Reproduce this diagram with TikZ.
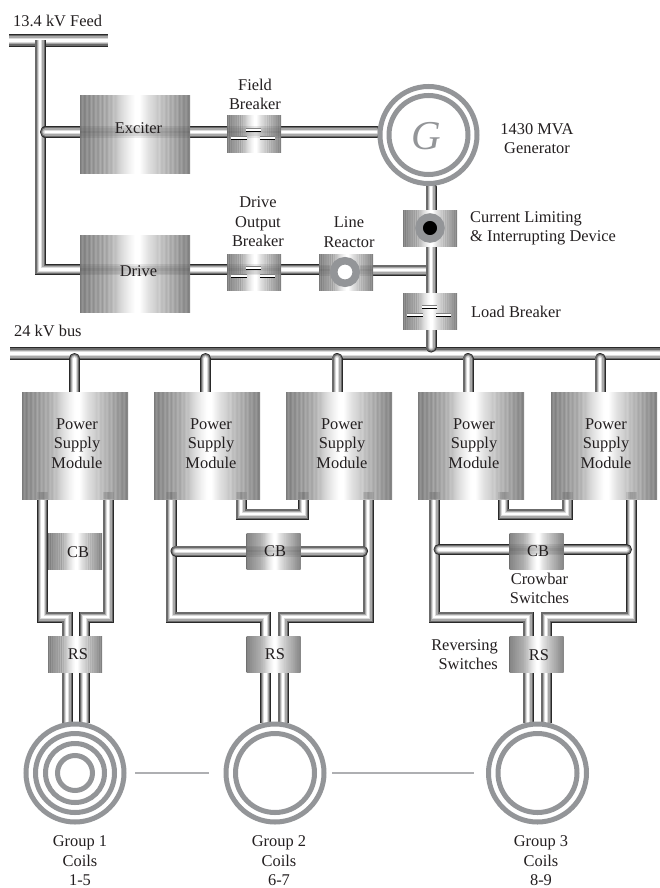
\documentclass[tikz,border=0pt]{standalone}
\usepackage{fontspec}
\setmainfont{Liberation Serif}
\usetikzlibrary{backgrounds}
\definecolor{ringgrey}{HTML}{939598}
\definecolor{ink}{HTML}{231F20}
\definecolor{pipeA}{gray}{0.16}
\definecolor{pipeB}{gray}{0.42}
\definecolor{pipeC}{gray}{0.66}
\definecolor{pipeD}{gray}{0.86}
\definecolor{pipeE}{gray}{1}
\pgfdeclarehorizontalshading{boxbands}{100bp}{
rgb(0bp)=(.48,.48,.48);rgb(25bp)=(.48,.48,.48);rgb(26bp)=(.58,.58,.58);rgb(27bp)=(.495,.495,.495);rgb(28bp)=(.61,.61,.61);rgb(29bp)=(.52,.52,.52);rgb(30bp)=(.635,.635,.635);rgb(31bp)=(.55,.55,.55);rgb(32bp)=(.66,.66,.66);rgb(33bp)=(.57,.57,.57);rgb(34bp)=(.685,.685,.685);rgb(35bp)=(.60,.60,.60);rgb(36bp)=(.71,.71,.71);rgb(37bp)=(.625,.625,.625);rgb(38bp)=(.73,.73,.73);rgb(39bp)=(.685,.685,.685);rgb(40bp)=(.77,.77,.77);rgb(41bp)=(.745,.745,.745);rgb(42bp)=(.80,.80,.80);rgb(43bp)=(.83,.83,.83);rgb(44bp)=(.86,.86,.86);rgb(45bp)=(.89,.89,.89);rgb(46bp)=(.91,.91,.91);rgb(47bp)=(.94,.94,.94);rgb(48bp)=(.96,.96,.96);rgb(49bp)=(.98,.98,.98);rgb(50bp)=(1,1,1);rgb(52bp)=(1,1,1);rgb(53bp)=(.97,.97,.97);rgb(54bp)=(.94,.94,.94);rgb(55bp)=(.91,.91,.91);rgb(56bp)=(.88,.88,.88);rgb(57bp)=(.86,.86,.86);rgb(58bp)=(.84,.84,.84);rgb(59bp)=(.82,.82,.82);rgb(60bp)=(.78,.78,.78);rgb(61bp)=(.81,.81,.81);rgb(62bp)=(.73,.73,.73);rgb(63bp)=(.765,.765,.765);rgb(64bp)=(.69,.69,.69);rgb(65bp)=(.74,.74,.74);rgb(66bp)=(.645,.645,.645);rgb(67bp)=(.71,.71,.71);rgb(68bp)=(.61,.61,.61);rgb(69bp)=(.67,.67,.67);rgb(70bp)=(.57,.57,.57);rgb(71bp)=(.63,.63,.63);rgb(72bp)=(.53,.53,.53);rgb(73bp)=(.60,.60,.60);rgb(74bp)=(.50,.50,.50);rgb(75bp)=(.56,.56,.56);rgb(100bp)=(.56,.56,.56)}
\tikzset{
  unit box/.style={rectangle,inner sep=0pt,outer sep=0pt,shading=boxbands,minimum width=#1},
  bigbox/.style={unit box=110pt,minimum height=77pt},
  modbox/.style={unit box=106pt,minimum height=107pt},
  smallbox/.style={unit box=54pt,minimum height=36pt},
  pipe/.style={line width=11pt,draw=pipeA,line join=miter,
    postaction={draw=pipeB,line width=9.4pt},
    postaction={draw=pipeC,line width=7pt},
    postaction={draw=pipeD,line width=4.8pt},
    postaction={draw=pipeE,line width=2.6pt}},
  buspipe/.style={line width=13pt,draw=pipeA,line join=miter,
    postaction={draw=pipeB,line width=11pt},
    postaction={draw=pipeC,line width=8pt},
    postaction={draw=pipeD,line width=5.2pt},
    postaction={draw=pipeE,line width=2.6pt}},
  ghost/.style={line width=11pt,draw=pipeA,draw opacity=.1,
    postaction={draw=pipeB,line width=8pt,draw opacity=.15},
    postaction={draw=black,line width=2.5pt,draw opacity=.05}},
  ring/.style={circle,draw=ringgrey,line width=#1,inner sep=0pt},
  ring/.default=5pt,
  lbl/.style={font=\fontsize{16.4}{19.5}\selectfont,text=ink,inner sep=0pt,align=center},
  lbll/.style={lbl,align=left,anchor=west},
  coilbar/.style={draw=ringgrey!75,line width=1.5pt},
  breakersym/.pic={
    \foreach \a/\b/\y in {-8/7/-6,-23/-7/2,6/21/2}{
      \fill[white] (\a,\y) rectangle (\b,\y+3.4);
      \draw[gray,line width=.7pt] (\a,\y) -- (\b,\y);
      \draw[black,line width=1.2pt] (\a,\y+3.4) -- (\b,\y+3.4);
    }
  }
}
\begin{document}
\begin{tikzpicture}[x=1pt,y=-1pt]
\useasboundingbox (0,0) rectangle (660,888);
% boxes
\node[bigbox] (exciter) at (135,134.5) {};
\node[bigbox] (drive) at (135,273.5) {};
\node[smallbox] (fb) at (254,134) {};
\node[smallbox] (dob) at (254,272) {};
\node[smallbox] (lr) at (346,272) {};
\node[smallbox] (clid) at (430,228) {};
\node[smallbox] (lb) at (430,311) {};
\node[modbox] (mod1) at (75,445.5) {};
\node[modbox] (mod2) at (207,445.5) {};
\node[modbox] (mod3) at (339,445.5) {};
\node[modbox] (mod4) at (471,445.5) {};
\node[modbox] (mod5) at (604,445.5) {};
\node[smallbox] (cb1) at (75,551) {};
\node[smallbox] (cb2) at (273.5,551) {};
\node[smallbox] (cb3) at (536.5,551) {};
\node[smallbox] (rs1) at (75,654) {};
\node[smallbox] (rs2) at (273.5,654) {};
\node[smallbox] (rs3) at (536.5,654) {};
% rotating machine and coils
\node[ring,minimum size=97pt] (gen) at (428.5,135) {};
\node[ring,minimum size=79pt] (geni) at (428.5,135) {};
\node[ring,minimum size=98pt] (coil1) at (75,773) {};
\node[ring,minimum size=79pt] (coil1b) at (75,773) {};
\node[ring,minimum size=59pt] (coil1c) at (75,773) {};
\node[ring,minimum size=35pt] (coil1d) at (75,773) {};
\node[ring,minimum size=98pt] (coil2) at (275,773) {};
\node[ring,minimum size=79pt] (coil2b) at (275,773) {};
\node[ring,minimum size=98pt] (coil3) at (537.5,773) {};
\node[ring,minimum size=79pt] (coil3b) at (537.5,773) {};
\node[ring=7.5pt,minimum size=22.5pt,fill=white] (lrc) at (345,272) {};
\node[ring=7.5pt,minimum size=22pt,fill=black] (clidc) at (430,228) {};
% pipe reference points
\coordinate (feedL) at (9,40.3);
\coordinate (feedR) at (108,40.3);
\coordinate (feedJ) at (40,40.3);
\coordinate (exJ) at (45.5,132);
\coordinate (drC) at (40,269.5);
\coordinate (mainT) at (431,187);
\coordinate (lrJ) at (431,270);
\coordinate (busL) at (10,353.5);
\coordinate (busR) at (660,353.5);
\coordinate (busJ) at (431,347);
\foreach \n/\x in {1/74.5,2/205.5,3/337,4/468,5/600}{
  \coordinate (dropT\n) at (\x,358.5);
  \coordinate (dropB\n) at (\x,398);
}
% group 1
\coordinate (a1) at (42.5,492); \coordinate (a1k) at (67,617); \coordinate (a1e) at (67,723);
\coordinate (b1) at (108,492); \coordinate (b1k) at (84.5,617); \coordinate (b1e) at (84.5,723);
% group 2
\coordinate (a2) at (171,492); \coordinate (a2k) at (265.5,617); \coordinate (a2e) at (265.5,723);
\coordinate (b2) at (368,492); \coordinate (b2k) at (283,617); \coordinate (b2e) at (283,723);
\coordinate (u2a) at (241,492); \coordinate (u2m) at (303.5,514); \coordinate (u2b) at (303.5,492);
\coordinate (h2a) at (176,551); \coordinate (h2b) at (362.5,551);
% group 3
\coordinate (a3) at (434,492); \coordinate (a3k) at (528,617); \coordinate (a3e) at (528,723);
\coordinate (b3) at (631.5,492); \coordinate (b3k) at (546,617); \coordinate (b3e) at (546,723);
\coordinate (u3a) at (503.5,492); \coordinate (u3m) at (567,514); \coordinate (u3b) at (567,492);
\coordinate (h3a) at (439,549.5); \coordinate (h3b) at (626.5,549.5);
\begin{pgfonlayer}{background}
\fill[white] (0,0) rectangle (660,888);
% feed
\draw[pipe] (feedJ) -- (drC) -- (drive.west |- drC);
\draw[buspipe] (feedL) -- (feedR);
\draw[pipe] (feedJ) -- ([yshift=-7pt]feedJ);
\draw[pipe,line cap=round,shorten >=1pt] (exJ) -- (gen.west |- exJ);
\draw[pipe] (drive.east |- drC) -- (lr.west |- drC);
\draw[pipe] (lr.east |- lrJ) -- (lrJ);
% bus
\draw[buspipe] (busL) -- (busR);
\draw[pipe,line cap=round] (mainT -| busJ) -- (busJ);
\foreach \n in {1,...,5}{\draw[pipe,line cap=round] (dropT\n) -- (dropB\n);}
% groups
\draw[pipe] (a1) |- (a1k) -- (a1e);
\draw[pipe] (b1) |- (b1k) -- (b1e);
\draw[pipe] (a2) |- (a2k) -- (a2e);
\draw[pipe] (b2) |- (b2k) -- (b2e);
\draw[pipe] (u2a) |- (u2m) -- (u2b);
\draw[pipe,line cap=round] (h2a) -- (h2b);
\draw[pipe] (a3) |- (a3k) -- (a3e);
\draw[pipe] (b3) |- (b3k) -- (b3e);
\draw[pipe] (u3a) |- (u3m) -- (u3b);
\draw[pipe,line cap=round] (h3a) -- (h3b);
\end{pgfonlayer}
% pipe seen faintly through boxes
\draw[ghost] (exciter.west |- exJ) -- (exciter.east |- exJ);
\draw[ghost] (drive.west |- drC) -- (drive.east |- drC);
\draw[ghost] (fb.west |- exJ) -- (fb.east |- exJ);
\draw[ghost] (dob.west |- drC) -- (dob.east |- drC);
\draw[ghost] (lr.west |- lrJ) -- (lrc.west |- lrJ);
\draw[ghost] (lrc.east |- lrJ) -- (lr.east |- lrJ);
\draw[ghost] (cb2.west |- h2a) -- (cb2.east |- h2a);
\draw[ghost] (cb3.west |- h3a) -- (cb3.east |- h3a);
\foreach \c in {a1,b1,a2,b2,u2a,u2b,a3,b3,u3a,u3b}{
  \draw[ghost] (\c) -- (\c |- mod1.south);
}
% breaker symbols
\pic at (fb) {breakersym};
\pic at (dob) {breakersym};
\pic at (lb) {breakersym};
% coil link lines
\coordinate (l1a) at (135,773); \coordinate (l1b) at (209,773);
\coordinate (l2a) at (332,773); \coordinate (l2b) at (474,773);
\draw[coilbar] (l1a) -- (l1b);
\draw[coilbar] (l2a) -- (l2b);
% labels
\node[lbl,anchor=west] (t1) at (13,21) {13.4 kV Feed};
\node[lbl,anchor=west] (t2) at (14,331) {24 kV bus};
\node[lbl] (t3) at (255,94.5) {Field\\Breaker};
\node[lbl] (t4) at (138.5,128) {Exciter};
\node[lbl] (t5) at (138.5,271) {Drive};
\node[lbl] (t6) at (258,222) {Drive\\Output\\Breaker};
\node[lbl] (t7) at (349,232) {Line\\Reactor};
\node[lbl] (t8) at (537,138.5) {1430 MVA\\Generator};
\node[lbl,font=\fontsize{41}{41}\selectfont\itshape,text=ringgrey] (t9) at (426,136) {G};
\node[lbll] (t10) at (470,228.5) {Current Limiting\\\& Interrupting Device};
\node[lbll] (t11) at (471,312) {Load Breaker};
\foreach \n/\x in {1/77,2/211,3/342,4/474,5/606}{
  \node[lbl] (psm\n) at (\x,443.5) {Power\\Supply\\Module};
}
\node[lbl] (t12) at (78,552) {CB};
\node[lbl] (t13) at (275,551) {CB};
\node[lbl] (t14) at (538,551) {CB};
\node[lbl] (t15) at (78,654) {RS};
\node[lbl] (t16) at (275,654) {RS};
\node[lbl] (t17) at (539,655) {RS};
\node[lbl] (t18) at (539.5,588.5) {Crowbar\\Switches};
\node[lbl,align=right,anchor=east] (t19) at (498,654.5) {Reversing\\Switches};
\node[lbl] (t20) at (80,861) {Group 1\\Coils\\1-5};
\node[lbl] (t21) at (279,861) {Group 2\\Coils\\6-7};
\node[lbl] (t22) at (541,861) {Group 3\\Coils\\8-9};
\end{tikzpicture}
\end{document}
